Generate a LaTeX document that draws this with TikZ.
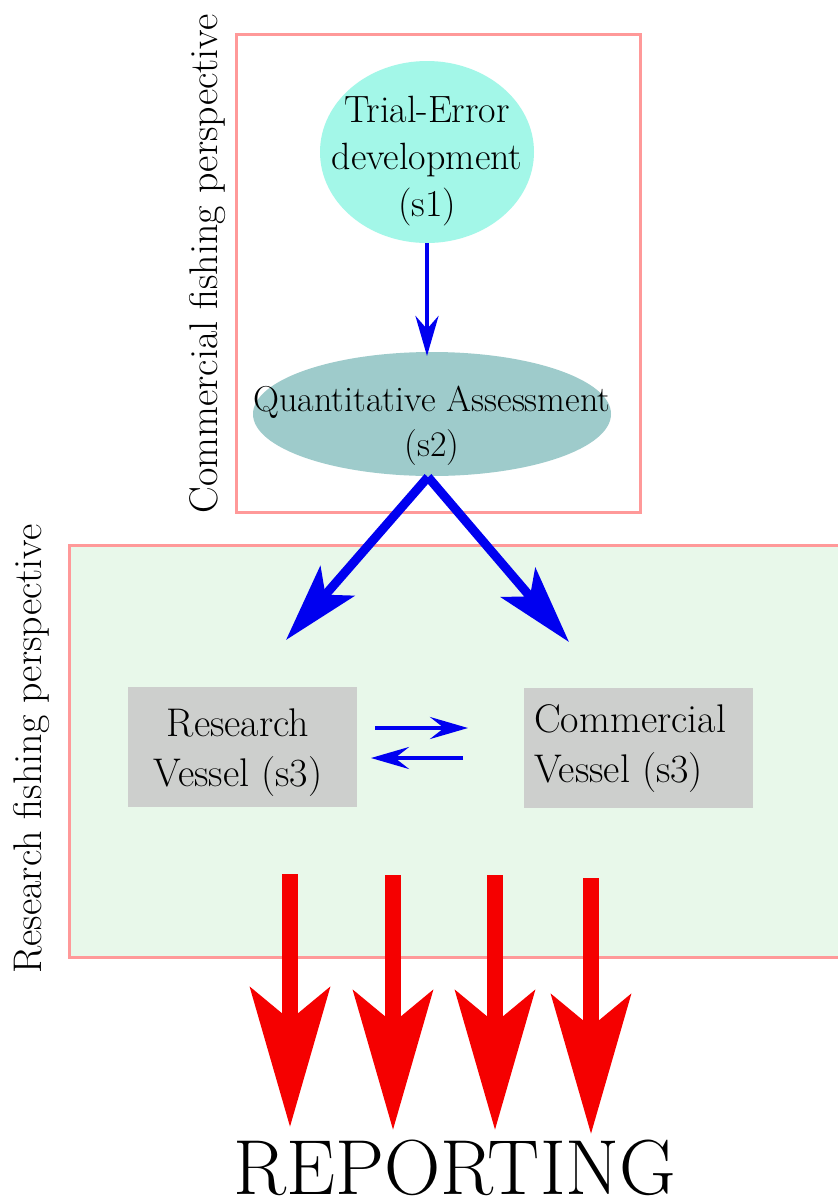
\documentclass[tikz,border=0pt]{standalone}
\usepackage{fontspec}
\usetikzlibrary{arrows.meta,shapes.geometric}
\definecolor{pinkb}{RGB}{255,153,153}
\definecolor{greenbg}{RGB}{232,248,234}
\definecolor{aquaf}{RGB}{163,247,232}
\definecolor{tealf}{RGB}{158,203,203}
\definecolor{grayf}{RGB}{205,207,205}
\definecolor{arrblue}{RGB}{0,0,240}
\definecolor{arrred}{RGB}{245,0,0}
\tikzset{
  frame/.style={draw=pinkb, line width=3pt},
  ellone/.style={ellipse, fill=aquaf, inner sep=0pt, minimum width=214pt, minimum height=182pt},
  elltwo/.style={ellipse, fill=tealf, inner sep=0pt, minimum width=358pt, minimum height=124pt},
  vesselbox/.style={rectangle, fill=grayf, inner sep=0pt, minimum width=229pt, minimum height=120pt},
  txt/.style={inner sep=0pt, font=\fontsize{40}{50}\selectfont},
  thinarrow/.style={draw=arrblue, line width=4pt, -{Stealth[length=38pt,width=22pt,inset=14pt]}},
  midarrow/.style={draw=arrblue, line width=4.5pt, -{Stealth[length=40pt,width=23pt,inset=13pt]}},
  thickarrow/.style={draw=arrblue, line width=9pt, -{Stealth[length=78pt,width=45pt,inset=18pt]}},
  redarrow/.style={draw=arrred, line width=16pt, -{Stealth[length=139pt,width=79pt,inset=32pt]}},
}
\begin{document}
\begin{tikzpicture}[x=1pt,y=-1pt]
\path[use as bounding box, clip] (0,0) rectangle (838,1200);
\fill[white] (0,0) rectangle (838,1200);

% frames
\draw[frame] (236,34) rectangle (640,512);
\draw[frame, fill=greenbg] (69,545) rectangle (850,957);

% side labels
\node[txt, rotate=90, anchor=base] (lblc) at (217,264) {Commercial fishing perspective};
\node[txt, rotate=90, anchor=base] (lblr) at (41,749) {Research fishing perspective};

% ellipses
\node[ellone] (s1) at (427,152) {};
\node[inner sep=0pt, align=center, font=\fontsize{38}{47}\selectfont] (s1t) at (427,161) {Trial-Error\\development\\(s1)};
\node[elltwo] (s2) at (432,414) {};
\node[inner sep=0pt, align=center, font=\fontsize{36}{45}\selectfont] (s2t) at (432,426) {Quantitative Assessment\\(s2)};

% vessel boxes
\node[vesselbox] (rv) at (242.5,747) {};
\node[txt, align=center] (rvt) at (238,753) {Research\\Vessel (s3)};
\node[vesselbox] (cv) at (638.5,747.5) {};
\node[txt, align=left, anchor=west] (cvt) at (534,749) {Commercial\\Vessel (s3)};

% arrows
\coordinate (s2top) at (427,356);
\draw[midarrow] (s1.south) -- (s2top);
\coordinate (tl) at (286,640);
\coordinate (tr) at (569,642);
\coordinate (sb) at (428,477);
\draw[thickarrow] (sb) -- (tl);
\draw[thickarrow] (sb) -- (tr);

\coordinate (ra1) at (375,728);
\coordinate (ra2) at (468,728);
\coordinate (la1) at (463,758);
\coordinate (la2) at (371,758);
\draw[thinarrow] (ra1) -- (ra2);
\draw[thinarrow] (la1) -- (la2);

\foreach \x/\a/\b [count=\i] in {290/874/1127, 393/875/1130, 495/875/1130, 591/878/1134}{
  \coordinate (r\i a) at (\x,\a);
  \coordinate (r\i b) at (\x,\b);
  \draw[redarrow] (r\i a) -- (r\i b);
}

\node[inner sep=0pt, anchor=base, font=\fontsize{78}{88}\selectfont] (rep) at (455,1194) {REPORTING};
\end{tikzpicture}
\end{document}
